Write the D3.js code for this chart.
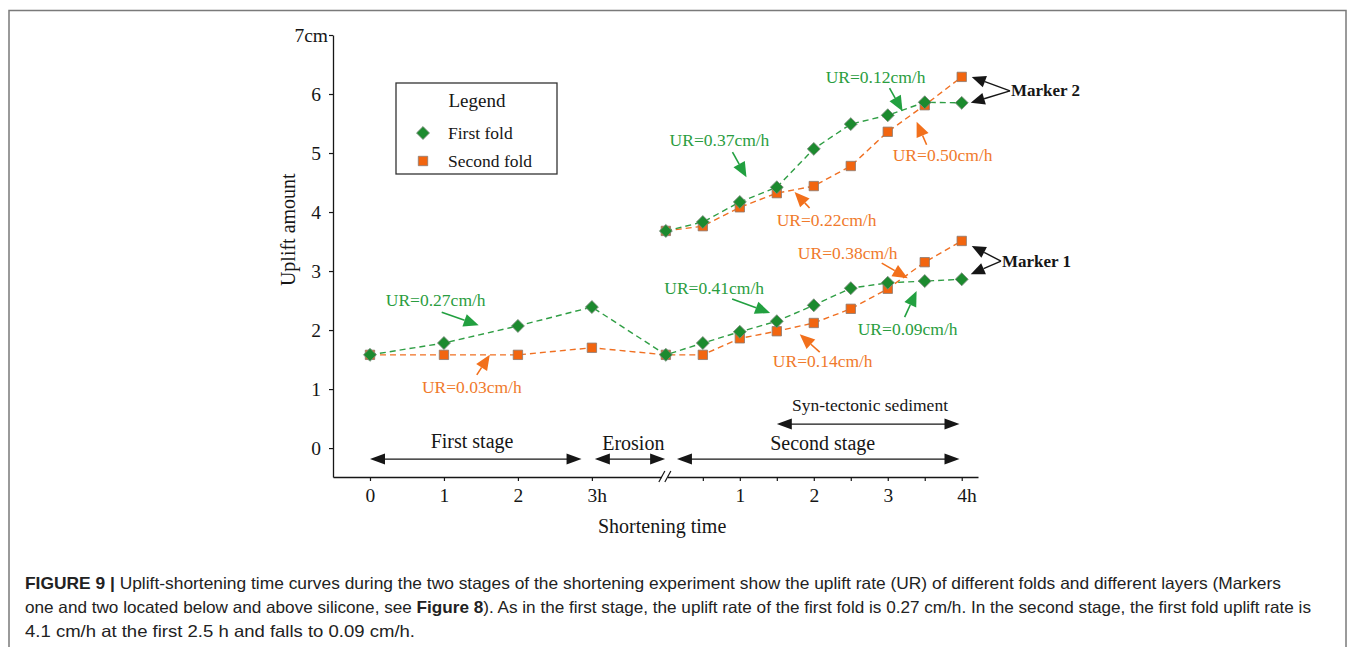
<!DOCTYPE html>
<html>
<head>
<meta charset="utf-8">
<script src="https://cdn.jsdelivr.net/npm/d3@7/dist/d3.min.js"></script>
<style>
  html, body { margin: 0; padding: 0; background: #fff; }
  svg { display: block; }
  .cap { font-family: "Liberation Sans Narrow", "Liberation Sans", Arial, sans-serif; fill: #222; }
</style>
</head>
<body>
<svg id="fig" width="1355" height="647"></svg>
<script>
// ---- data -------------------------------------------------------------
// first stage runs 0-3 h, erosion is drawn as one hour-wide gap,
// second stage runs 0-4 h (plotted on a continuous time axis offset by 4)
const firstStageHours  = [0, 1, 2, 3];
const secondStageHours = [0, 0.5, 1, 1.5, 2, 2.5, 3, 3.5, 4];
const secondStageOffset = 4;

// Marker 1 (below silicone)
const m1FirstFoldStage1  = [1.58, 1.78, 2.07, 2.39];
const m1SecondFoldStage1 = [1.58, 1.58, 1.58, 1.70];
const m1FirstFoldStage2  = [1.58, 1.78, 1.97, 2.15, 2.42, 2.71, 2.80, 2.83, 2.86];
const m1SecondFoldStage2 = [1.58, 1.58, 1.86, 1.98, 2.12, 2.36, 2.70, 3.15, 3.51];
// Marker 2 (above silicone)
const m2FirstFoldStage2  = [3.68, 3.83, 4.17, 4.42, 5.07, 5.49, 5.64, 5.86, 5.85];
const m2SecondFoldStage2 = [3.68, 3.76, 4.08, 4.32, 4.44, 4.78, 5.36, 5.81, 6.29];

const yTickValues = [0, 1, 2, 3, 4, 5, 6, 7];
const xTickValues = [0, 1, 2, 3, 4.5, 5, 5.5, 6, 6.5, 7, 7.5, 8];

const seriesNames = ["First fold", "Second fold"];

// uplift-rate callouts: label text, fold index, arrow tip (time axis, uplift)
const rateLabels  = ["UR=0.27cm/h", "UR=0.03cm/h", "UR=0.41cm/h", "UR=0.14cm/h", "UR=0.38cm/h",
                     "UR=0.09cm/h", "UR=0.37cm/h", "UR=0.12cm/h", "UR=0.50cm/h", "UR=0.22cm/h"];
const rateFold    = [0, 1, 0, 1, 1, 0, 0, 0, 1, 1];
const rateTipTime = [1.47, 1.62, 5.41, 5.81, 7.27, 7.39, 5.09, 7.20, 7.39, 5.74];
const rateTipVal  = [2.08, 1.58, 2.29, 1.93, 2.88, 2.66, 4.59, 5.71, 5.53, 4.34];
// tail and label offsets from the tip, px
const rateTail  = [[-37,-13],[-13,20],[-38,-14],[20,18],[-26,-15],[-12,26],[-14,-25],[-13,-23],[10,23],[15,16]];
const rateLabel = [[-43,-25],[-18,32],[-56,-25],[23,27],[-60,-25],[-9,38],[-27,-37],[-27,-34],[26,33],[32,28]];

// stage spans on the time axis
const stageNames = ["First stage", "Erosion", "Second stage", "Syn-tectonic sediment"];
const stageFrom  = [0, 3.04, 4.15, 5.5];
const stageTo    = [2.86, 3.99, 7.97, 7.97];

const captionLines = [
  [["FIGURE 9 |", true], [" Uplift-shortening time curves during the two stages of the shortening experiment show the uplift rate (UR) of different folds and different layers (Markers", false]],
  [["one and two located below and above silicone, see ", false], ["Figure 8", true], ["). As in the first stage, the uplift rate of the first fold is 0.27  cm/h. In the second stage, the first fold uplift rate is", false]],
  [["4.1 cm/h at the first 2.5 h and falls to 0.09 cm/h.", false]]
];

// ---- styles -------------------------------------------------------------
const lineColor   = ["#2f9e44", "#f07022"];
const arrowColor  = ["#22a040", "#f2701c"];
const markFill    = ["#1c8a2e", "#f2650f"];
const textColor   = ["#2a9d40", "#f07a2c"];
const ink = "#161616";

const svg = d3.select("#fig");

// figure frame
svg.append("rect").attr("x", 9).attr("y", 10.5).attr("width", 1337).attr("height", 660)
  .attr("fill", "none").attr("stroke", "#7a7a7a").attr("stroke-width", 1.5);

const x = d3.scaleLinear().domain([-0.5, 8.22]).range([333, 978]);
const y = d3.scaleLinear().domain([-0.49, 7]).range([477, 35]);

const serif = (sel) => sel.attr("font-family", '"Liberation Serif", "Times New Roman", serif');

// ---- axes ---------------------------------------------------------------
const yAxis = d3.axisLeft(y).tickValues(yTickValues).tickSize(4).tickPadding(9).tickSizeOuter(0)
  .tickFormat(d => d === 7 ? "7cm" : d);
const gy = svg.append("g").attr("transform", `translate(${x(-0.5)},0)`).call(yAxis);
gy.select(".domain").attr("stroke", ink).attr("stroke-width", 1.3);
gy.selectAll(".tick line").attr("stroke", ink).attr("stroke-width", 1.2);
gy.selectAll(".tick text").call(serif).attr("font-size", 19.5).attr("fill", ink)
  .attr("x", d => d === 7 ? -5 : -12);

const xAxis = d3.axisBottom(x).tickValues(xTickValues).tickSize(4).tickPadding(7).tickSizeOuter(0)
  .tickFormat(d => {
    if (d <= 3) return d === 3 ? "3h" : d;
    const t = d - secondStageOffset;
    if (!Number.isInteger(t)) return "";
    return t === 4 ? "4h" : t;
  });
const gx = svg.append("g").attr("transform", `translate(0,${y(-0.49)})`).call(xAxis);
gx.select(".domain").attr("stroke", ink).attr("stroke-width", 1.3);
gx.selectAll(".tick line").attr("stroke", ink).attr("stroke-width", 1.2);
gx.selectAll(".tick text").call(serif).attr("font-size", 19.5).attr("fill", ink)
  .attr("text-anchor", d => (d === 3 || d === 8) ? "start" : "middle")
  .attr("x", d => (d === 3 || d === 8) ? -5 : 0);

// axis break between the erosion period and the second stage
const bx = x(secondStageOffset), by = y(-0.49);
svg.append("rect").attr("x", bx - 4).attr("y", by - 2).attr("width", 6).attr("height", 4).attr("fill", "#fff");
[-4, 2].forEach(o => {
  svg.append("line").attr("x1", bx + o - 3).attr("y1", by + 5).attr("x2", bx + o + 3).attr("y2", by - 6)
    .attr("stroke", ink).attr("stroke-width", 1.2);
});

// axis titles
svg.append("text").call(serif).attr("font-size", 20).attr("fill", ink)
  .attr("text-anchor", "middle").attr("transform", `translate(295,${y(3.7)}) rotate(-90)`)
  .text("Uplift amount");
svg.append("text").call(serif).attr("font-size", 20).attr("fill", ink)
  .attr("text-anchor", "middle").attr("x", x(3.95)).attr("y", 533)
  .text("Shortening time");

// ---- helpers ------------------------------------------------------------
function arrowHead(g, x1, y1, x2, y2, color, len, half) {
  const a = Math.atan2(y2 - y1, x2 - x1);
  const bxp = x2 - len * Math.cos(a), byp = y2 - len * Math.sin(a);
  const px = -Math.sin(a) * half, py = Math.cos(a) * half;
  g.append("path")
    .attr("d", `M${x2},${y2}L${bxp + px},${byp + py}L${bxp - px},${byp - py}Z`)
    .attr("fill", color);
  return [bxp, byp];
}
function arrow(g, x1, y1, x2, y2, color, len, half, w) {
  const [ex, ey] = arrowHead(g, x1, y1, x2, y2, color, len, half);
  g.append("line").attr("x1", x1).attr("y1", y1).attr("x2", ex).attr("y2", ey)
    .attr("stroke", color).attr("stroke-width", w);
}
function doubleArrow(g, x1, x2, yy, color) {
  arrowHead(g, x2, yy, x1, yy, color, 15, 5.5);
  arrowHead(g, x1, yy, x2, yy, color, 15, 5.5);
  g.append("line").attr("x1", x1 + 14).attr("x2", x2 - 14).attr("y1", yy).attr("y2", yy)
    .attr("stroke", color).attr("stroke-width", 1.3);
}

// ---- series -------------------------------------------------------------
const series = [
  { fold: 1, pts: firstStageHours.map((t, i) => [t, m1SecondFoldStage1[i]])
                  .concat(secondStageHours.map((t, i) => [t + secondStageOffset, m1SecondFoldStage2[i]])) },
  { fold: 0, pts: firstStageHours.map((t, i) => [t, m1FirstFoldStage1[i]])
                  .concat(secondStageHours.map((t, i) => [t + secondStageOffset, m1FirstFoldStage2[i]])) },
  { fold: 1, pts: secondStageHours.map((t, i) => [t + secondStageOffset, m2SecondFoldStage2[i]]) },
  { fold: 0, pts: secondStageHours.map((t, i) => [t + secondStageOffset, m2FirstFoldStage2[i]]) }
];

const line = d3.line().x(d => x(d[0])).y(d => y(d[1]));
const gLines = svg.append("g");
series.forEach(s => {
  gLines.append("path").attr("d", line(s.pts)).attr("fill", "none")
    .attr("stroke", lineColor[s.fold]).attr("stroke-width", 1.4).attr("stroke-dasharray", "6,4");
});

const diamondSym = d3.symbol().type(d3.symbolSquare).size(84);
const squareSym  = d3.symbol().type(d3.symbolSquare).size(88);
function drawMark(g, fold, cx, cy) {
  if (fold === 0) {
    g.append("path").attr("d", diamondSym())
      .attr("transform", `translate(${cx},${cy}) rotate(45)`)
      .attr("fill", markFill[0]).attr("stroke", "#7d8a7d").attr("stroke-width", 0.8);
  } else {
    g.append("path").attr("d", squareSym())
      .attr("transform", `translate(${cx},${cy})`)
      .attr("fill", markFill[1]).attr("stroke", "#8a7a70").attr("stroke-width", 0.8);
  }
}
const gMarks = svg.append("g");
// second fold squares first so the first-fold diamonds sit on top
[series[0], series[2], series[1], series[3]].forEach(s => {
  s.pts.forEach(p => drawMark(gMarks, s.fold, x(p[0]), y(p[1])));
});

// ---- uplift-rate callouts ----------------------------------------------
const gAnn = svg.append("g");
rateLabels.forEach((lab, i) => {
  const tx = x(rateTipTime[i]), ty = y(rateTipVal[i]);
  const f = rateFold[i];
  arrow(gAnn, tx + rateTail[i][0], ty + rateTail[i][1], tx, ty, arrowColor[f], 15, 6.5, 1.6);
  gAnn.append("text").call(serif).attr("font-size", 17.5).attr("fill", textColor[f])
    .attr("text-anchor", "middle").attr("dominant-baseline", "central")
    .attr("x", tx + rateLabel[i][0]).attr("y", ty + rateLabel[i][1])
    .text(lab);
});

// ---- marker callouts ----------------------------------------------------
const lastIdx = secondStageHours.length - 1;
const tEnd = x(secondStageHours[lastIdx] + secondStageOffset);
const markerCallouts = [
  { name: "Marker 2", vals: [m2SecondFoldStage2[lastIdx], m2FirstFoldStage2[lastIdx]], lx: 1011, inset: 0 },
  { name: "Marker 1", vals: [m1SecondFoldStage2[lastIdx], m1FirstFoldStage2[lastIdx]], lx: 1002, inset: 5 }
];
markerCallouts.forEach(m => {
  const yTop = y(m.vals[0]), yBot = y(m.vals[1]);
  const ly = (yTop + yBot) / 2 + 1;
  arrow(svg, m.lx - 1, ly, tEnd + 10, yTop + m.inset, ink, 14, 6, 1.4);
  arrow(svg, m.lx - 1, ly, tEnd + 9, yBot - m.inset, ink, 14, 6, 1.4);
  svg.append("text").call(serif).attr("font-size", 17).attr("font-weight", "bold").attr("fill", ink)
    .attr("x", m.lx).attr("y", ly).attr("dominant-baseline", "central").text(m.name);
});

// ---- stage spans --------------------------------------------------------
const gStage = svg.append("g");
const stageArrowY = [y(0) + 11, y(0) + 11, y(0) + 11, y(0) - 24];
const stageTextY  = [y(0) - 7, y(0) - 5, y(0) - 5, y(0) - 43];
const stageTextT  = [1.38, 3.56, 6.12, 6.76];
const stageFont   = [20, 20, 20, 17.5];
stageNames.forEach((n, i) => {
  doubleArrow(gStage, x(stageFrom[i]), x(stageTo[i]), stageArrowY[i], ink);
  gStage.append("text").call(serif).attr("font-size", stageFont[i]).attr("fill", ink)
    .attr("text-anchor", "middle").attr("dominant-baseline", "central")
    .attr("x", x(stageTextT[i])).attr("y", stageTextY[i]).text(n);
});

// ---- legend -------------------------------------------------------------
const lg = svg.append("g").attr("transform", "translate(396,83)");
lg.append("rect").attr("width", 161).attr("height", 91).attr("fill", "#fff")
  .attr("stroke", "#333").attr("stroke-width", 1.3);
lg.append("text").call(serif).attr("font-size", 19).attr("fill", ink)
  .attr("x", 81).attr("y", 17).attr("text-anchor", "middle").attr("dominant-baseline", "central")
  .text("Legend");
seriesNames.forEach((n, i) => {
  drawMark(lg, i, 27, 50 + i * 28);
  lg.append("text").call(serif).attr("font-size", 17.5).attr("fill", ink)
    .attr("x", 52).attr("y", 50 + i * 28).attr("dominant-baseline", "central").text(n);
});

// ---- caption ------------------------------------------------------------
const capBase = [589, 613, 637];
const capLen  = [1256, 1286, 390];
captionLines.forEach((parts, i) => {
  const t = svg.append("text").attr("class", "cap").attr("font-size", 16.5)
    .attr("x", 25).attr("y", capBase[i])
    .attr("textLength", capLen[i]).attr("lengthAdjust", "spacingAndGlyphs");
  parts.forEach(([s, b]) => {
    t.append("tspan").attr("font-weight", b ? "bold" : "normal").text(s);
  });
});
</script>
</body>
</html>
